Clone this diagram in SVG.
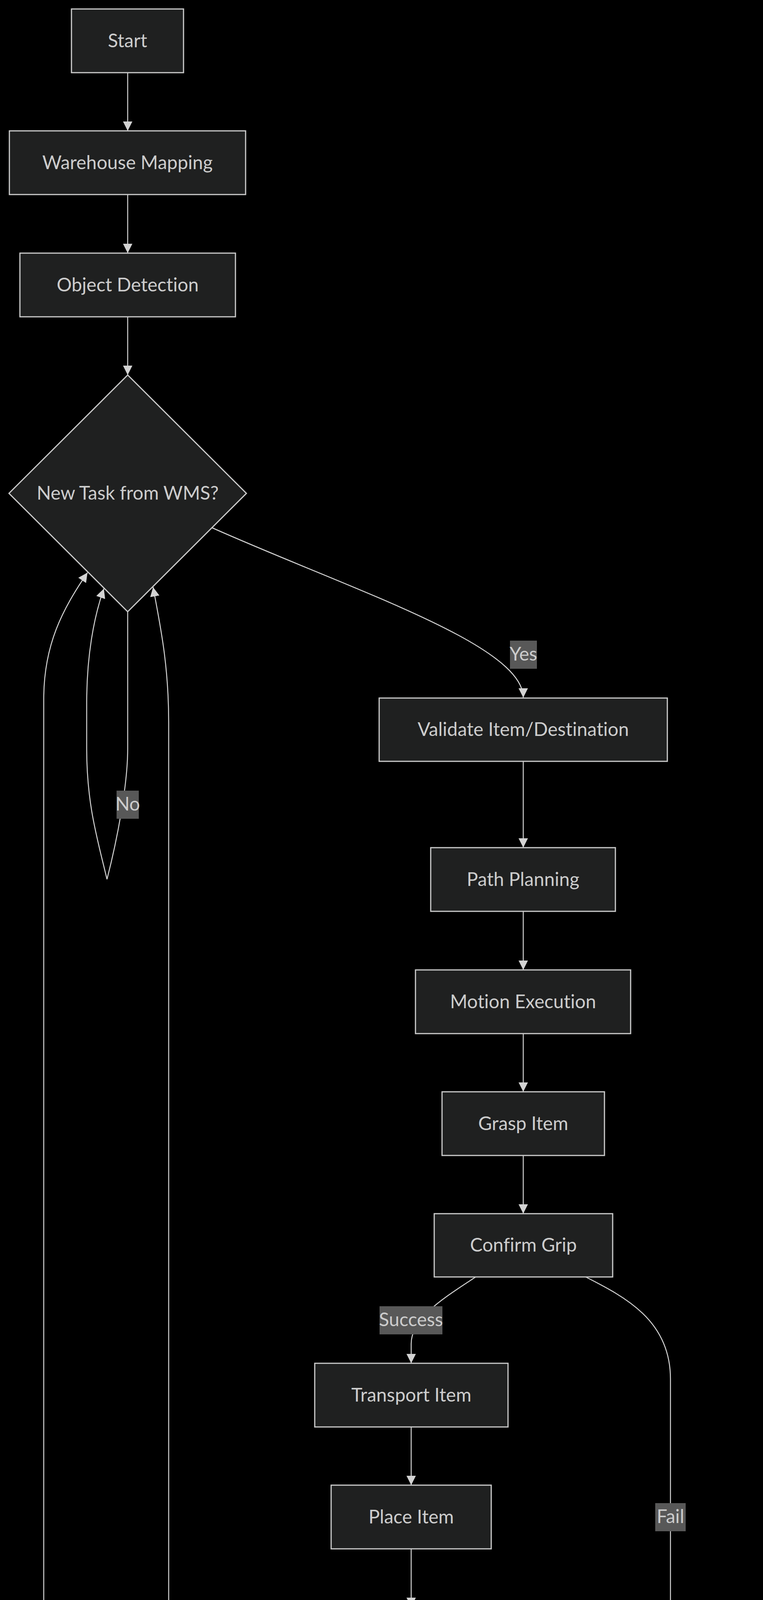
<svg xmlns="http://www.w3.org/2000/svg" width="1954" height="4997" viewBox="0 0 1954 4997">
<style>
.node rect, .node polygon { fill: #1f2020; stroke: #cccccc; stroke-width: 3; }
.node text, .elabel text { font-family: "Trebuchet MS", Lato, "DejaVu Sans", sans-serif; font-size: 48px; fill: #cccccc; text-anchor: middle; font-variant-ligatures: none; }
.edge { fill: none; stroke: #d3d3d3; stroke-width: 2.5; }
.elabel rect { fill: #585858; }
</style>
<defs>
<marker id="arrow" viewBox="0 0 10 10" refX="10" refY="5" markerUnits="userSpaceOnUse" markerWidth="24" markerHeight="24" orient="auto">
<path d="M0,0 L10,5 L0,10 z" fill="#d3d3d3"/>
</marker>
</defs>
<rect x="0" y="0" width="1954" height="4997" fill="#000000"/>

<g id="connectors">
<path class="edge" marker-end="url(#arrow)" d="M327,186 L327,335"/>
<path class="edge" marker-end="url(#arrow)" d="M327,498 L327,648"/>
<path class="edge" marker-end="url(#arrow)" d="M327,811 L327,960"/>
<path class="edge" marker-end="url(#arrow)" d="M543,1351 C900,1510 1340,1650 1340,1786"/>
<path class="edge" marker-end="url(#arrow)" d="M327,1566 L327,1917 C327,2010 300,2150 274,2251 C250,2150 222,2060 222,1917 L222,1800 C222,1680 240,1580 266,1507"/>
<path class="edge" marker-end="url(#arrow)" d="M1340,1949 L1340,2170"/>
<path class="edge" marker-end="url(#arrow)" d="M1340,2333 L1340,2483"/>
<path class="edge" marker-end="url(#arrow)" d="M1340,2646 L1340,2795"/>
<path class="edge" marker-end="url(#arrow)" d="M1340,2958 L1340,3107"/>
<path class="edge" marker-end="url(#arrow)" d="M1218,3269 C1150,3315 1053,3370 1053,3440 L1053,3490"/>
<path class="edge" marker-end="url(#arrow)" d="M1500,3269 C1600,3320 1717,3380 1717,3530 L1717,4499"/>
<path class="edge" marker-end="url(#arrow)" d="M1053,3653 L1053,3802"/>
<path class="edge" marker-end="url(#arrow)" d="M1053,3965 L1053,4114"/>
<path class="edge" marker-end="url(#arrow)" d="M921,4277 C820,4340 700,4410 603,4498"/>
<path class="edge" marker-end="url(#arrow)" d="M1091,4278 C1110,4330 1142,4390 1142,4440 L1142,4499"/>
<path class="edge" marker-end="url(#arrow)" d="M472,4498 C450,4430 432,4370 432,4289 L432,1850 C432,1700 410,1600 392,1503"/>
<path class="edge" marker-end="url(#arrow)" d="M1142,4661 L1142,4811"/>
<path class="edge" marker-end="url(#arrow)" d="M1717,4662 L1717,4680 C1717,4760 1500,4790 1330,4841"/>
<path class="edge" marker-end="url(#arrow)" d="M954,4864 C500,4800 112,4740 112,4598 L112,1790 C112,1650 160,1560 224,1466"/>
</g>

<g id="edge-labels">
<g class="elabel" id="label-yes"><rect x="1306" y="1640" width="69" height="72"/><text x="1340.5" y="1691">Yes</text></g>
<g class="elabel" id="label-no"><rect x="298.5" y="2024" width="57" height="72"/><text x="327" y="2075">No</text></g>
<g class="elabel" id="label-success1"><rect x="972" y="3344" width="161" height="72"/><text x="1052.5" y="3395">Success</text></g>
<g class="elabel" id="label-fail1"><rect x="1678" y="3848" width="78" height="72"/><text x="1717" y="3899">Fail</text></g>
<g class="elabel" id="label-success2"><rect x="658" y="4352" width="161" height="72"/><text x="738.5" y="4403">Success</text></g>
<g class="elabel" id="label-fail2"><rect x="1103" y="4352" width="78" height="72"/><text x="1142" y="4403">Fail</text></g>
</g>

<g class="node" id="start"><rect x="183" y="23" width="287" height="163"/><text x="326.5" y="121">Start</text></g>
<g class="node" id="warehouse-mapping"><rect x="24" y="335" width="605" height="163"/><text x="326.5" y="433">Warehouse Mapping</text></g>
<g class="node" id="object-detection"><rect x="51" y="648" width="552" height="163"/><text x="327" y="746">Object Detection</text></g>
<g class="node" id="new-task"><polygon points="327,960 631,1263 327,1566 23,1263"/><text x="327" y="1279">New Task from WMS?</text></g>
<g class="node" id="validate"><rect x="971" y="1787" width="738" height="162"/><text x="1340" y="1884">Validate Item/Destination</text></g>
<g class="node" id="path-planning"><rect x="1103" y="2170" width="473" height="163"/><text x="1339.5" y="2268">Path Planning</text></g>
<g class="node" id="motion-execution"><rect x="1064" y="2483" width="551" height="163"/><text x="1339.5" y="2581">Motion Execution</text></g>
<g class="node" id="grasp-item"><rect x="1132" y="2795" width="416" height="163"/><text x="1340" y="2893">Grasp Item</text></g>
<g class="node" id="confirm-grip"><rect x="1112" y="3107" width="457" height="162"/><text x="1340.5" y="3204">Confirm Grip</text></g>
<g class="node" id="transport-item"><rect x="806" y="3490" width="495" height="163"/><text x="1053.5" y="3588">Transport Item</text></g>
<g class="node" id="place-item"><rect x="848" y="3802" width="410" height="163"/><text x="1053" y="3900">Place Item</text></g>
<g class="node" id="confirm-placement"><rect x="757" y="4114" width="592" height="163"/><text x="1053" y="4212">Confirm Placement</text></g>
<g class="node" id="reset-neutral"><rect x="236" y="4499" width="532" height="162"/><text x="502" y="4596">Reset to Neutral</text></g>
<g class="node" id="retry-alert-1"><rect x="929" y="4499" width="426" height="162"/><text x="1142" y="4596">Retry/Alert</text></g>
<g class="node" id="retry-alert-2"><rect x="1504" y="4499" width="426" height="162"/><text x="1717" y="4596">Retry/Alert</text></g>
<g class="node" id="log-error"><rect x="954" y="4811" width="376" height="163"/><text x="1142" y="4909">Log Error</text></g>
</svg>
